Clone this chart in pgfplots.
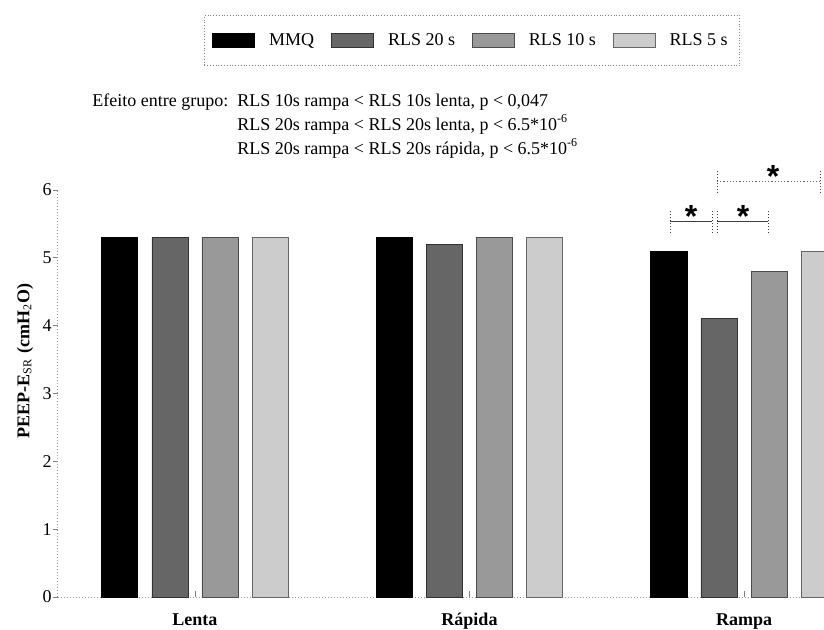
\documentclass[border=0pt]{standalone}
\usepackage{fontspec}
\setmainfont{Liberation Serif}
\newfontfamily\starfont{Liberation Sans}
\usepackage{pgfplots}
\pgfplotsset{compat=1.18}
\definecolor{cA}{HTML}{000000}
\definecolor{cB}{HTML}{666666}
\definecolor{cC}{HTML}{999999}
\definecolor{cD}{HTML}{CCCCCC}
\begin{document}
\fontsize{9}{11}\selectfont
\begin{tikzpicture}
\path[use as bounding box] (0,0) rectangle (412pt,314.5pt);
\begin{axis}[
  at={(29pt,16pt)}, anchor=south west,
  scale only axis, width=383pt, height=203.5pt,
  xmin=-0.499, xmax=2.2914, ymin=0, ymax=6,
  enlargelimits=false,
  clip mode=individual,
  ybar, bar width=0.1314,
  axis lines*=left,
  axis line style={gray!80, densely dotted, line width=0.5pt},
  xtick={0,1,2}, xticklabels={Lenta,Rápida,Rampa},
  xtick style={draw=none},
  ytick={0,1,2,3,4,5,6},
  tick align=outside,
  ytick style={gray, line width=0.4pt},
  major tick length=2.5pt,
  /pgf/number format/assume math mode=true,
  ticklabel style={font=\fontsize{9}{11}\selectfont},
  xticklabel style={font=\fontsize{9}{11}\selectfont\bfseries, anchor=base, yshift=-11.5pt},
  yticklabel style={anchor=east, xshift=2.5pt},
  ylabel={\bfseries PEEP-E\textsubscript{\mdseries SR} (cmH\textsubscript{\mdseries 2}O)},
  ylabel style={at={(axis description cs:-0.0431,0.58)}, anchor=center, font=\fontsize{9}{11}\selectfont},
  legend columns=4,
  legend style={at={(axis description cs:0.5405,1.3673)}, anchor=center,
    draw=gray, densely dotted, inner xsep=4pt, inner ysep=7pt,
    font=\fontsize{9}{11}\selectfont,
    /tikz/every odd column/.append style={column sep=5pt},
    /tikz/every even column/.append style={column sep=6.5pt}},
  legend image code/.code={\draw[#1,solid] (0pt,-3.5pt) rectangle (21pt,3.5pt);},
]
\addplot[fill=cA, draw=black, line width=0.4pt, bar shift=-0.2737] coordinates {(0,5.3) (1,5.3) (2,5.1)};
\addplot[fill=cB, draw=black!80, line width=0.4pt, bar shift=-0.0912] coordinates {(0,5.3) (1,5.2) (2,4.1)};
\addplot[fill=cC, draw=black!70, line width=0.4pt, bar shift=0.0912] coordinates {(0,5.3) (1,5.3) (2,4.8)};
\addplot[fill=cD, draw=black!60, line width=0.4pt, bar shift=0.2737] coordinates {(0,5.3) (1,5.3) (2,5.1)};
\legend{MMQ, RLS 20 s, RLS 10 s, RLS 5 s}
% small x ticks at group centres
\draw[gray, line width=0.4pt] (axis cs:0,0) -- ++(0pt,3pt);
\draw[gray, line width=0.4pt] (axis cs:1,0) -- ++(0pt,3pt);
\draw[gray, line width=0.4pt] (axis cs:2,0) -- ++(0pt,3pt);
% significance brackets
\draw[black!75, line width=0.5pt] (axis cs:1.7304,5.535) -- (axis cs:1.8834,5.535);
\draw[black!75, line width=0.5pt, densely dotted] (axis cs:1.7304,5.37) -- (axis cs:1.7304,5.69);
\draw[black!75, line width=0.5pt, densely dotted] (axis cs:1.8834,5.37) -- (axis cs:1.8834,5.69);
\draw[black!75, line width=0.5pt] (axis cs:1.9016,5.535) -- (axis cs:2.0874,5.535);
\draw[black!75, line width=0.5pt, densely dotted] (axis cs:1.9016,5.37) -- (axis cs:1.9016,5.69);
\draw[black!75, line width=0.5pt, densely dotted] (axis cs:2.0874,5.37) -- (axis cs:2.0874,5.69);
\draw[black!60, line width=0.6pt, densely dotted] (axis cs:1.9016,6.125) -- (axis cs:2.2769,6.125);
\draw[black!75, line width=0.5pt, densely dotted] (axis cs:1.9016,5.96) -- (axis cs:1.9016,6.30);
\draw[black!75, line width=0.5pt, densely dotted] (axis cs:2.2769,5.96) -- (axis cs:2.2769,6.30);
\node[font=\starfont\bfseries\fontsize{16}{16}\selectfont, inner sep=0pt, yshift=-3.3pt] at (axis cs:1.807,5.71) {*};
\node[font=\starfont\bfseries\fontsize{16}{16}\selectfont, inner sep=0pt, yshift=-3.3pt] at (axis cs:1.9964,5.71) {*};
\node[font=\starfont\bfseries\fontsize{16}{16}\selectfont, inner sep=0pt, yshift=-3.3pt] at (axis cs:2.1056,6.29) {*};
\end{axis}
\node[anchor=base west, inner sep=0pt, font=\fontsize{9}{12}\selectfont] at (46pt,261.5pt)
  {\begin{tabular}[t]{@{}p{72.5pt}@{}l@{}}
   Efeito entre grupo: & RLS 10s rampa < RLS 10s lenta, p < 0,047\\
   & RLS 20s rampa < RLS 20s lenta, p < 6.5*10\textsuperscript{-6}\\
   & RLS 20s rampa < RLS 20s rápida, p < 6.5*10\textsuperscript{-6}
   \end{tabular}};
\end{tikzpicture}
\end{document}
